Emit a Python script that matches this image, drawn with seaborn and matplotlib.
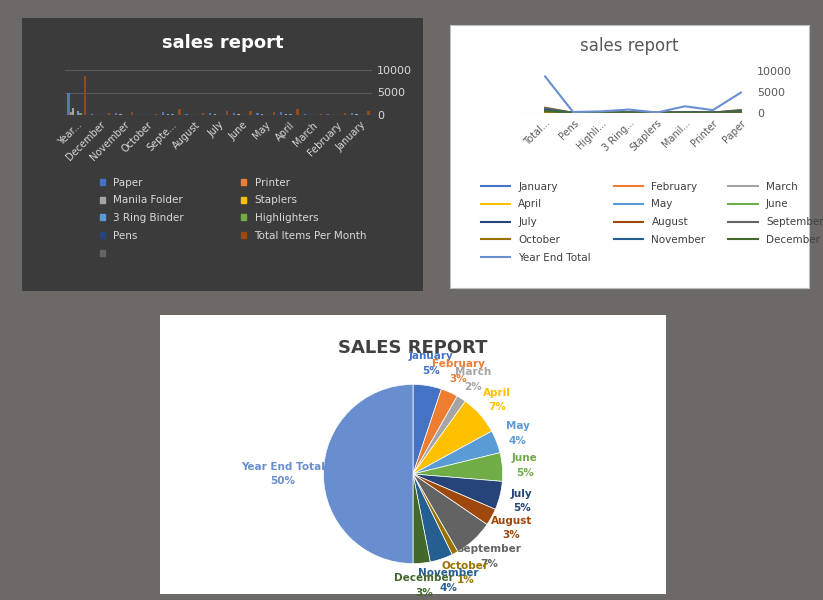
import matplotlib
matplotlib.use("Agg")
import matplotlib.pyplot as plt
from matplotlib.patches import Patch
from matplotlib.lines import Line2D
import seaborn as sns
import pandas as pd
import numpy as np

# dados
meses = ["January", "February", "March", "April", "May", "June", "July",
         "August", "September", "October", "November", "December"]
produtos = ["Paper", "Printer", "Manila Folder", "Staplers", "3 Ring Binder", "Highlighters", "Pens"]
vendas = [
    [500, 70, 170, 10, 90, 40, 20],
    [300, 40, 100, 5, 50, 25, 20],
    [170, 25, 55, 5, 25, 10, 10],
    [700, 100, 230, 15, 115, 55, 35],
    [400, 60, 130, 10, 65, 35, 20],
    [500, 70, 170, 10, 90, 40, 20],
    [510, 70, 160, 10, 90, 40, 20],
    [300, 45, 100, 5, 50, 25, 15],
    [700, 100, 225, 15, 120, 55, 35],
    [110, 15, 40, 5, 20, 5, 5],
    [400, 55, 135, 10, 65, 35, 20],
    [310, 40, 95, 5, 50, 25, 15],
]
cores_prod = ["#4472C4", "#ED7D31", "#A5A5A5", "#FFC000", "#5B9BD5", "#70AD47", "#264478", "#9E480E", "#636363"]
cores_mes = ["#4472C4", "#ED7D31", "#A5A5A5", "#FFC000", "#5B9BD5", "#70AD47", "#264478",
             "#9E480E", "#636363", "#997300", "#255E91", "#43682B", "#698ED0"]

# tabela completa com total anual e total por mes
tabela = pd.DataFrame(vendas, index=meses, columns=produtos)
tabela.loc["Year End Total"] = tabela.sum()
tabela["Total Items Per Month"] = tabela[produtos].sum(axis=1)

W, H = 823, 600
fig = plt.figure(figsize=(8.23, 6.0), dpi=100, facecolor="#6d6967")

def caixa(x0, y0, x1, y1, **kw):
    return fig.add_axes([x0 / W, 1 - y1 / H, (x1 - x0) / W, (y1 - y0) / H], **kw)

def col_major(itens, ncol):
    nrow = int(np.ceil(len(itens) / ncol))
    out = []
    for c in range(ncol):
        for r in range(nrow):
            i = r * ncol + c
            if i < len(itens):
                out.append(itens[i])
    return out

# ---------- grafico de barras (painel escuro) ----------
p1 = caixa(22, 18, 423, 291)
p1.set_facecolor("#3b3b3b"); p1.set_xticks([]); p1.set_yticks([])
for s in p1.spines.values():
    s.set_visible(False)
p1.text(0.5, 0.89, "sales report", transform=p1.transAxes, ha="center", color="white",
        fontsize=13, fontweight="bold")

ax1 = caixa(65, 61, 372, 115)
ordem_barras = ["Year End Total"] + meses[::-1]
longo = tabela.loc[ordem_barras].reset_index(names="mes").melt(id_vars="mes", var_name="item", value_name="valor")
sns.barplot(data=longo, x="mes", y="valor", hue="item", palette=cores_prod[:8], ax=ax1,
            width=0.8, legend=False)
ax1.set_facecolor("none")
ax1.set_ylim(0, 12000)
ax1.yaxis.tick_right()
ax1.set_yticks([0, 5000, 10000])
ax1.tick_params(axis="y", colors="#d9d9d9", labelsize=8, length=0)
ax1.tick_params(axis="x", colors="#d9d9d9", labelsize=7, length=0)
rot1 = [m if len(m) <= 8 else m[:5] + "..." for m in ordem_barras]
rot1[0] = "Year..."
ax1.set_xticks(range(len(rot1)))
ax1.set_xticklabels(rot1, rotation=45, ha="right", rotation_mode="anchor")
ax1.grid(axis="y", color="#5a5a5a", lw=0.8)
ax1.set_axisbelow(True)
ax1.set_xlabel(""); ax1.set_ylabel("")
for s in ax1.spines.values():
    s.set_visible(False)
ax1.axhline(0, color="#8a8a8a", lw=0.8)
nomes_leg1 = produtos + ["Total Items Per Month", ""]
alcas1 = [Patch(color=c, label=n) for c, n in zip(cores_prod, nomes_leg1)]
p1.legend(handles=col_major(alcas1, 2), ncol=2, loc="upper left", bbox_to_anchor=(0.17, 0.45),
          frameon=False, fontsize=7.5, labelcolor="#d9d9d9", handlelength=0.5, handleheight=0.5,
          columnspacing=5.5, labelspacing=0.75)

# ---------- grafico de linhas ----------
p2 = caixa(450, 25, 809, 288)
p2.set_facecolor("white"); p2.set_xticks([]); p2.set_yticks([])
for s in p2.spines.values():
    s.set_color("#bfbfbf")
p2.text(0.5, 0.9, "sales report", transform=p2.transAxes, ha="center", color="#595959", fontsize=12)

ax2 = caixa(520, 63, 752, 113)
ordem_linhas = ["Total Items Per Month", "Pens", "Highlighters", "3 Ring Binder", "Staplers",
                "Manila Folder", "Printer", "Paper"]
series = meses + ["Year End Total"]
longo2 = tabela.loc[series, ordem_linhas].reset_index(names="serie").melt(
    id_vars="serie", var_name="item", value_name="valor")
sns.lineplot(data=longo2, x="item", y="valor", hue="serie", palette=cores_mes, ax=ax2,
             lw=1.5, legend=False, sort=False)
ax2.set_xlim(-0.9, 7.4)
ax2.set_ylim(0, 12000)
ax2.yaxis.tick_right()
ax2.set_yticks([0, 5000, 10000])
ax2.tick_params(axis="y", colors="#595959", labelsize=8, length=0)
ax2.tick_params(axis="x", colors="#595959", labelsize=7, length=0)
rot2 = ["Total...", "Pens", "Highli...", "3 Ring...", "Staplers", "Manil...", "Printer", "Paper"]
ax2.set_xticks(range(8))
ax2.set_xticklabels(rot2, rotation=45, ha="right", rotation_mode="anchor")
ax2.set_xlabel(""); ax2.set_ylabel("")
for s in ax2.spines.values():
    s.set_visible(False)
ax2.axhline(0, color="#d9d9d9", lw=0.8)
alcas2 = [Line2D([], [], color=c, lw=1.5, label=n) for c, n in zip(cores_mes, series)]
p2.legend(handles=col_major(alcas2, 3), ncol=3, loc="upper left", bbox_to_anchor=(0.06, 0.44),
          frameon=False, fontsize=7.5, labelcolor="#404040", handlelength=2.8,
          columnspacing=2.2, labelspacing=0.75)

# ---------- grafico de pizza ----------
p3 = caixa(160, 315, 666, 594)
p3.set_facecolor("white"); p3.set_xticks([]); p3.set_yticks([])
for s in p3.spines.values():
    s.set_visible(False)
p3.text(0.5, 0.865, "SALES REPORT", transform=p3.transAxes, ha="center", color="#404040",
        fontsize=13, fontweight="bold")

ax3 = caixa(301, 362, 525, 586)
valores_pizza = tabela.loc[series, "Total Items Per Month"].values
fatias, _ = ax3.pie(valores_pizza, colors=cores_mes, startangle=90, counterclock=False,
                    wedgeprops=dict(linewidth=0.5, edgecolor="white"))
pct = valores_pizza / valores_pizza.sum() * 100
for f, nome, p, c in zip(fatias, series, pct, cores_mes):
    ang = np.deg2rad((f.theta1 + f.theta2) / 2)
    r = 1.25 if nome != "Year End Total" else 1.45
    x, y = r * np.cos(ang), r * np.sin(ang)
    ax3.text(x, y, f"{nome}\n{p:.0f}%", ha="center", va="center", color=c, fontsize=7.5,
             fontweight="bold", linespacing=1.6)
ax3.set_aspect("equal")

fig.savefig("out.png", dpi=100, facecolor=fig.get_facecolor())
